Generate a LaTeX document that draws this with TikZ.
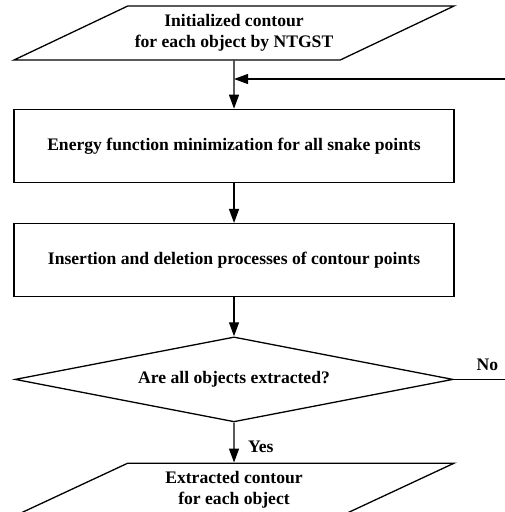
\documentclass[tikz,border=0pt]{standalone}
\usepackage{fontspec}
\setmainfont{Liberation Serif}
\usepackage{tikz}
\usetikzlibrary{shapes.geometric,arrows.meta,positioning,calc}

\begin{document}
\begin{tikzpicture}[
    node distance=40pt,
    line width=1.3pt,
    >={Triangle[length=14pt,width=10pt]},
    every node/.style={font=\fontsize{17.6}{21}\selectfont\bfseries},
    box/.style={rectangle, draw, minimum width=440pt, minimum height=73pt, align=center},
    io/.style={trapezium, draw, trapezium left angle=21, trapezium right angle=159,
        trapezium stretches body=true, minimum width=440pt, minimum height=54pt, align=center},
    decision/.style={diamond, draw, aspect=5, minimum width=438pt, minimum height=85pt, inner sep=0pt}
]
    \useasboundingbox (0,0) rectangle (505pt,-512pt);

    % Input contour
    \node[io] (init) at (234pt,-33pt) {Initialized contour\\for each object by NTGST};

    % Snake steps
    \node[box, below=48pt of init] (energy) {Energy function minimization for all snake points};
    \node[box, below=of energy] (insdel) {Insertion and deletion processes of contour points};

    % Check
    \node[decision, below=39pt of insdel] (check) {Are all objects extracted?};

    % Output contour
    \node[io, below=of check, minimum height=53pt] (result) {Extracted contour\\for each object};

    % Loop ends
    \coordinate (loopin) at (505pt,-79pt);
    \coordinate[right=52pt of check.east] (loopout);

    % Edges
    \draw[->] (init) -- (energy);
    \draw[->] (loopin) -- (loopin -| init.south);
    \draw[->] (energy) -- (insdel);
    \draw[->] (insdel) -- (check);
    \draw (check.east) -- node[pos=0.65, above=5pt] {No} (loopout);
    \draw[->] (check) -- node[right=10pt, pos=0.6] {Yes} (result);
\end{tikzpicture}
\end{document}
